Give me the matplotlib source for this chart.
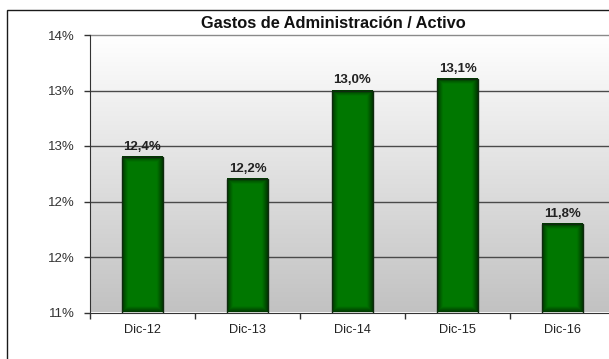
import numpy as np
import matplotlib
matplotlib.use("Agg")
import matplotlib.pyplot as plt
from matplotlib.patches import Rectangle
from matplotlib.ticker import FixedLocator, FuncFormatter
from decimal import Decimal, ROUND_HALF_UP

categories = ["Dic-12", "Dic-13", "Dic-14", "Dic-15", "Dic-16"]
values = [12.4, 12.2, 13.0, 13.1, 11.8]
y_ticks = [11.0, 11.5, 12.0, 12.5, 13.0, 13.5]
title = "Gastos de Administración / Activo"

plt.rcParams["font.family"] = ["Liberation Sans", "DejaVu Sans"]

W, H = 609, 359
fig = plt.figure(figsize=(W / 100, H / 100), dpi=100)
fig.patch.set_facecolor("white")

# outer chart frame
fig.patches.append(Rectangle((7 / W, -0.2), 1.2, 1 - 10 / H + 0.2, transform=fig.transFigure,
                             fill=False, edgecolor="#1a1a1a", linewidth=1.0, zorder=0))

left, right, top, bottom = 90, 615, 35, 312.5
ax = fig.add_axes([left / W, 1 - bottom / H, (right - left) / W, (bottom - top) / H])
ax.set_xlim(-0.5, len(categories) - 0.5)
ax.set_ylim(y_ticks[0], y_ticks[-1])

# vertical gradient background
grad = np.linspace(0.76, 1.0, 256).reshape(-1, 1)
ax.imshow(np.dstack([grad, grad, grad]), extent=[0, 1, 0, 1], transform=ax.transAxes,
          aspect="auto", origin="lower", zorder=0)

# gridlines
for yv in y_ticks[1:-1]:
    ax.axhline(yv, color="#4a4a4a", linewidth=1.0, zorder=1)
ax.axhline(y_ticks[-1], color="#8a8a8a", linewidth=1.0, zorder=1, clip_on=False)

# bars with inner shading
bar_w = 0.39
px_x = (right - left) / len(categories)
px_y = (bottom - top) / (y_ticks[-1] - y_ticks[0])
base = np.array([0.0, 0.47, 0.0])
for i, v in enumerate(values):
    x0, x1 = i - bar_w / 2, i + bar_w / 2
    wpx = int(bar_w * px_x)
    hpx = max(int((v - y_ticks[0]) * px_y), 2)
    xx = np.arange(wpx) + 0.5
    yy = np.arange(hpx) + 0.5
    dx = np.minimum(xx, wpx - xx)[None, :]
    dy = np.minimum(yy, hpx - yy)[:, None]
    d = np.minimum(np.broadcast_to(dx, (hpx, wpx)), np.broadcast_to(dy, (hpx, wpx)))
    f = 0.45 + 0.55 * np.clip(d / 6.0, 0, 1)
    img = base[None, None, :] * f[:, :, None]
    ax.imshow(img, extent=[x0, x1, y_ticks[0], v], aspect="auto", origin="lower",
              zorder=2, interpolation="bilinear")
    ax.add_patch(Rectangle((x0, y_ticks[0]), bar_w, v - y_ticks[0], fill=False,
                           edgecolor="#0f2a0f", linewidth=1.0, zorder=3))
    ax.annotate(f"{v:.1f}".replace(".", ",") + "%", (i, v), xytext=(0, 3),
                textcoords="offset points", ha="center", va="bottom",
                fontsize=9.5, fontweight="bold", color="#222222")

ax.set_xlim(-0.5, len(categories) - 0.5)
ax.set_ylim(y_ticks[0], y_ticks[-1])


def pct_fmt(v, _):
    return str(Decimal(str(v)).quantize(Decimal("1"), rounding=ROUND_HALF_UP)) + "%"


ax.yaxis.set_major_locator(FixedLocator(y_ticks))
ax.yaxis.set_major_formatter(FuncFormatter(pct_fmt))
ax.set_xticks(range(len(categories)))
ax.set_xticklabels(categories)
ax.xaxis.set_minor_locator(FixedLocator(np.arange(-0.5, len(categories), 1.0)))
ax.tick_params(axis="x", which="major", length=0, pad=8, labelsize=9.2, labelcolor="#222222")
ax.tick_params(axis="x", which="minor", length=4, width=1, color="#333333", direction="out")
ax.tick_params(axis="y", length=4, width=1, color="#333333", direction="out", pad=7,
               labelsize=9.5, labelcolor="#333333")

for s in ["top", "right"]:
    ax.spines[s].set_visible(False)
ax.spines["left"].set_color("#333333")
ax.spines["bottom"].set_color("#333333")
ax.spines["left"].set_zorder(4)
ax.spines["bottom"].set_zorder(4)

fig.text(333 / W, 1 - 23 / H, title, ha="center", va="center", fontsize=11.8,
         fontweight="bold", color="#111111")

fig.savefig("out.png", dpi=100)
